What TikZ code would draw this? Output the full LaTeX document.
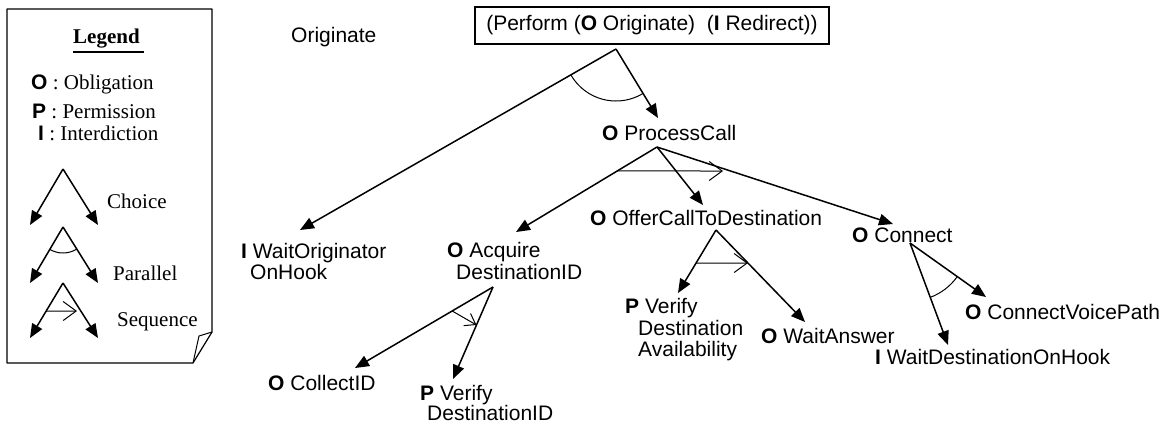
\documentclass[tikz,border=0pt]{standalone}
\usepackage{fontspec}
\setmainfont{Liberation Serif}
\setsansfont{Liberation Sans}
\usetikzlibrary{arrows.meta,angles,calc}
\begin{document}
\begin{tikzpicture}[x=1pt,y=-1pt,
  conn/.style={line width=1.5pt, -{Triangle[length=14pt,width=11.5pt]}},
  seqarr/.style={line width=1pt, -{Straight Barb[length=13pt,width=19pt,line width=1pt]}},
  seqsmall/.style={line width=1pt, -{Straight Barb[length=10pt,width=14pt,line width=1pt]}},
  par/.style={draw, line width=1pt},
  lab/.style={anchor=base west, inner sep=0pt, font=\sffamily\fontsize{21}{21.5}\selectfont},
  leg/.style={anchor=base west, inner sep=0pt, font=\rmfamily\fontsize{21}{25}\selectfont},
  frame/.style={line width=1.2pt, line join=round},
]
\useasboundingbox (0,0) rectangle (1172,424);

% ---------- Legend ----------
\draw[frame] (7,9) -- (212,9) -- (212,332) -- (193,363) -- (7,363) -- cycle;
\draw[line width=1pt, line join=round] (212,332) -- (199,336) -- (193,363);

\node[leg, font=\rmfamily\bfseries\fontsize{21}{25}\selectfont] (legt) at (73,43) {Legend};
\draw[line width=2.5pt] ([yshift=-9pt]legt.base west) -- ([yshift=-9pt,xshift=4pt]legt.base east);

\node[leg] (lo) at (31,89) {\textsf{\bfseries O} : Obligation};
\node[leg] (lp) at (32,118) {\textsf{\bfseries P} : Permission};
\node[leg] (li) at (38,140) {\textsf{\bfseries I} : Interdiction};

% choice
\coordinate (cA) at (63,169); \coordinate (cL) at (30,225); \coordinate (cR) at (98,225);
\draw[conn] (cA) -- (cL); \draw[conn] (cA) -- (cR);
\node[leg] (lch) at (107,208) {Choice};
% parallel
\coordinate (pA) at (63,227); \coordinate (pL) at (30,283); \coordinate (pR) at (98,283);
\draw[conn] (pA) -- (pL); \draw[conn] (pA) -- (pR);
\pic[par, angle radius=26pt] {angle = pL--pA--pR};
\node[leg] (lpa) at (113,280) {Parallel};
% sequence
\coordinate (sA) at (63,283); \coordinate (sL) at (30,338); \coordinate (sR) at (98,338);
\draw[conn] (sA) -- (sL); \draw[conn] (sA) -- (sR);
\coordinate (sE) at (77,311);
\draw[seqarr] ($(sA)!0.51!(sL)$) -- (sE);
\node[leg] (lse) at (117,326) {Sequence};

% ---------- Main tree ----------
\node[lab] (orig) at (291,42) {Originate};
\node[draw, line width=1.2pt, minimum width=354pt, minimum height=37pt, inner sep=0pt,
      font=\sffamily\fontsize{21}{21.5}\selectfont] (top) at (652,25.5)
  {(Perform (\textbf{O} Originate)\ \ (\textbf{I} Redirect))};

% root fork (parallel)
\coordinate (R) at (616,49); \coordinate (tWO) at (300,230); \coordinate (tPC) at (658,118);
\draw[conn] (R) -- (tWO); \draw[conn] (R) -- (tPC);
\pic[par, angle radius=52pt] {angle = tWO--R--tPC};

\node[lab] (WO) at (241,258) {\begin{tabular}[t]{@{}l@{}}\textbf{I} WaitOriginator\\\hspace*{9pt}OnHook\end{tabular}};
\node[lab] (PC) at (602,140) {\textbf{O} ProcessCall};

% ProcessCall fork (sequence)
\coordinate (P) at (657,147); \coordinate (tAD) at (516,232); \coordinate (tOC) at (703,205); \coordinate (tCN) at (893,224);
\draw[conn] (P) -- (tAD); \draw[conn] (P) -- (tOC); \draw[conn] (P) -- (tCN);
\coordinate (sPC) at (723,171);
\draw[seqarr] ($(P)!0.282!(tAD)$) -- (sPC);

\node[lab] (AD) at (447,257.5) {\begin{tabular}[t]{@{}l@{}}\textbf{O} Acquire\\\hspace*{9pt}DestinationID\end{tabular}};
\node[lab] (OC) at (590,225.5) {\textbf{O} OfferCallToDestination};
\node[lab] (CN) at (852,242.5) {\textbf{O} Connect};

% Acquire fork (sequence)
\coordinate (A) at (493,287); \coordinate (tCI) at (355,368); \coordinate (tVD) at (453,379);
\draw[conn] (A) -- (tCI); \draw[conn] (A) -- (tVD);
\draw[seqsmall] ($(A)!0.296!(tCI)$) -- ($(A)!0.413!(tVD)$);

\node[lab] (CI) at (268,390.5) {\textbf{O} CollectID};
\node[lab] (VD) at (420,400) {\begin{tabular}[t]{@{}l@{}}\textbf{P} Verify\\[-1.5pt]\hspace*{7pt}DestinationID\end{tabular}};

% Offer fork (sequence)
\coordinate (O) at (716,230); \coordinate (tVA) at (678,293); \coordinate (tWA) at (805,322);
\draw[conn] (O) -- (tVA); \draw[conn] (O) -- (tWA);
\draw[seqarr] ($(O)!0.524!(tVA)$) -- ($(O)!0.359!(tWA)$);

\node[lab] (VA) at (625,313.5) {\begin{tabular}[t]{@{}l@{}}\textbf{P} Verify\\\hspace*{13pt}Destination\\\hspace*{13pt}Availability\end{tabular}};
\node[lab] (WA) at (761,343.5) {\textbf{O} WaitAnswer};

% Connect fork (parallel)
\coordinate (C) at (910,243); \coordinate (tWD) at (948,345); \coordinate (tCV) at (986,297);
\draw[conn] (C) -- (tWD); \draw[conn] (C) -- (tCV);
\pic[par, angle radius=58pt] {angle = tWD--C--tCV};

\node[lab] (CV) at (965,319.5) {\textbf{O} ConnectVoicePath};
\node[lab] (WD) at (875,364.5) {\textbf{I} WaitDestinationOnHook};
\end{tikzpicture}
\end{document}
